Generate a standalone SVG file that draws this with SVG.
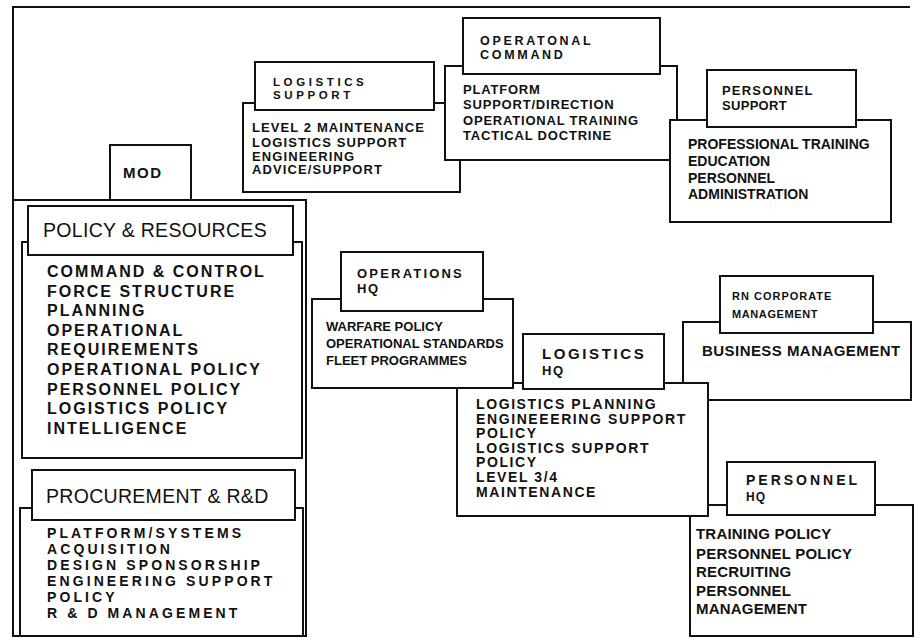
<svg xmlns="http://www.w3.org/2000/svg" width="917" height="639" viewBox="0 0 917 639">
<style>
.bx{fill:#fff;stroke:#111;stroke-width:2}
.fr{fill:none;stroke:#111;stroke-width:2}
text{font-family:"Liberation Sans",Arial,sans-serif;fill:#111;font-weight:bold}
.reg{font-weight:normal}
</style>
<rect width="917" height="639" fill="#fff"/>
<path class="fr" d="M910 7H13V636"/>
<g id="connectors"></g>

<g id="mod">
<rect class="bx" x="110" y="145" width="81" height="55"/>
<text x="123" y="178" font-size="15" letter-spacing="1.5">MOD</text>
<rect class="bx" x="13" y="200" width="293" height="436"/>
</g>

<g id="policy-resources">
<rect class="bx" x="22" y="242" width="280" height="216"/>
<rect class="bx" x="28" y="206" width="265" height="49"/>
<text class="reg" x="43" y="237" font-size="19.5" letter-spacing="0.3">POLICY &amp; RESOURCES</text>
<g font-size="16" letter-spacing="2">
<text x="47" y="277">COMMAND &amp; CONTROL</text>
<text x="47" y="296.6">FORCE STRUCTURE</text>
<text x="47" y="316.2">PLANNING</text>
<text x="47" y="335.8">OPERATIONAL</text>
<text x="47" y="355.4">REQUIREMENTS</text>
<text x="47" y="375">OPERATIONAL POLICY</text>
<text x="47" y="394.6">PERSONNEL POLICY</text>
<text x="47" y="414.2">LOGISTICS POLICY</text>
<text x="47" y="433.8">INTELLIGENCE</text>
</g>
</g>

<g id="procurement">
<rect class="bx" x="20" y="508" width="283" height="128"/>
<rect class="bx" x="32" y="470" width="263" height="50"/>
<text class="reg" x="46" y="503" font-size="19.5" letter-spacing="0.3">PROCUREMENT &amp; R&amp;D</text>
<g font-size="14" letter-spacing="3.1">
<text x="47" y="538">PLATFORM/SYSTEMS</text>
<text x="47" y="554">ACQUISITION</text>
<text x="47" y="570">DESIGN SPONSORSHIP</text>
<text x="47" y="586">ENGINEERING SUPPORT</text>
<text x="47" y="602">POLICY</text>
<text x="47" y="618">R &amp; D MANAGEMENT</text>
</g>
</g>

<g id="logistics-support">
<rect class="bx" x="243" y="103" width="217" height="89"/>
<rect class="bx" x="255" y="62" width="179" height="48"/>
<text x="273" y="86" font-size="11.5" letter-spacing="3.6">LOGISTICS</text>
<text x="273" y="99" font-size="11.5" letter-spacing="3.6">SUPPORT</text>
<g font-size="13" letter-spacing="1.1">
<text x="252" y="132">LEVEL 2 MAINTENANCE</text>
<text x="252" y="146.5">LOGISTICS SUPPORT</text>
<text x="252" y="160.5">ENGINEERING</text>
<text x="252" y="174">ADVICE/SUPPORT</text>
</g>
</g>

<g id="operational-command">
<rect class="bx" x="445" y="66" width="232" height="94"/>
<rect class="bx" x="463" y="18" width="197" height="56"/>
<text x="480" y="44.5" font-size="12.5" letter-spacing="2.7">OPERATONAL</text>
<text x="480" y="59" font-size="12.5" letter-spacing="2.7">COMMAND</text>
<g font-size="13" letter-spacing="0.8">
<text x="463" y="94">PLATFORM</text>
<text x="463" y="109">SUPPORT/DIRECTION</text>
<text x="463" y="125">OPERATIONAL TRAINING</text>
<text x="463" y="140">TACTICAL DOCTRINE</text>
</g>
</g>

<g id="personnel-support">
<rect class="bx" x="670" y="120" width="221" height="102"/>
<rect class="bx" x="707" y="70" width="149" height="57"/>
<text x="722" y="95" font-size="13" letter-spacing="1.2">PERSONNEL</text>
<text x="722" y="110" font-size="13" letter-spacing="0.3">SUPPORT</text>
<g font-size="14">
<text x="688" y="149">PROFESSIONAL TRAINING</text>
<text x="688" y="166">EDUCATION</text>
<text x="688" y="183">PERSONNEL</text>
<text x="688" y="199">ADMINISTRATION</text>
</g>
</g>

<g id="rn-corporate-management">
<rect class="bx" x="683" y="322" width="228" height="78"/>
<rect class="bx" x="720" y="276" width="153" height="57"/>
<text x="732" y="300" font-size="11" letter-spacing="1">RN CORPORATE</text>
<text x="732" y="317.5" font-size="11" letter-spacing="0.6">MANAGEMENT</text>
<text x="702" y="356" font-size="15" letter-spacing="0.45">BUSINESS MANAGEMENT</text>
</g>

<g id="personnel-hq">
<rect class="bx" x="690" y="505" width="223" height="131"/>
<rect class="bx" x="727" y="462" width="148" height="53"/>
<text x="746" y="485" font-size="14" letter-spacing="3">PERSONNEL</text>
<text x="746" y="500.5" font-size="12" letter-spacing="1">HQ</text>
<g font-size="15" letter-spacing="0.2">
<text x="696" y="539">TRAINING POLICY</text>
<text x="696" y="559">PERSONNEL POLICY</text>
<text x="696" y="577">RECRUITING</text>
<text x="696" y="596">PERSONNEL</text>
<text x="696" y="614">MANAGEMENT</text>
</g>
</g>

<g id="logistics-hq">
<rect class="bx" x="457" y="383" width="251" height="133"/>
<rect class="bx" x="523" y="334" width="141" height="55"/>
<text x="542" y="359" font-size="15" letter-spacing="2.6">LOGISTICS</text>
<text x="542" y="375" font-size="13" letter-spacing="1.5">HQ</text>
<g font-size="14" letter-spacing="1.6">
<text x="476" y="409">LOGISTICS PLANNING</text>
<text x="476" y="423.5">ENGINEEERING SUPPORT</text>
<text x="476" y="438">POLICY</text>
<text x="476" y="452.5">LOGISTICS SUPPORT</text>
<text x="476" y="467">POLICY</text>
<text x="476" y="482">LEVEL 3/4</text>
<text x="476" y="497">MAINTENANCE</text>
</g>
</g>

<g id="operations-hq">
<rect class="bx" x="312" y="299" width="201" height="89"/>
<rect class="bx" x="341" y="252" width="142" height="59"/>
<text x="357" y="278" font-size="13" letter-spacing="2.2">OPERATIONS</text>
<text x="357" y="293" font-size="13" letter-spacing="1.5">HQ</text>
<g font-size="13">
<text x="326" y="331">WARFARE POLICY</text>
<text x="326" y="348">OPERATIONAL STANDARDS</text>
<text x="326" y="365">FLEET PROGRAMMES</text>
</g>
</g>
</svg>
